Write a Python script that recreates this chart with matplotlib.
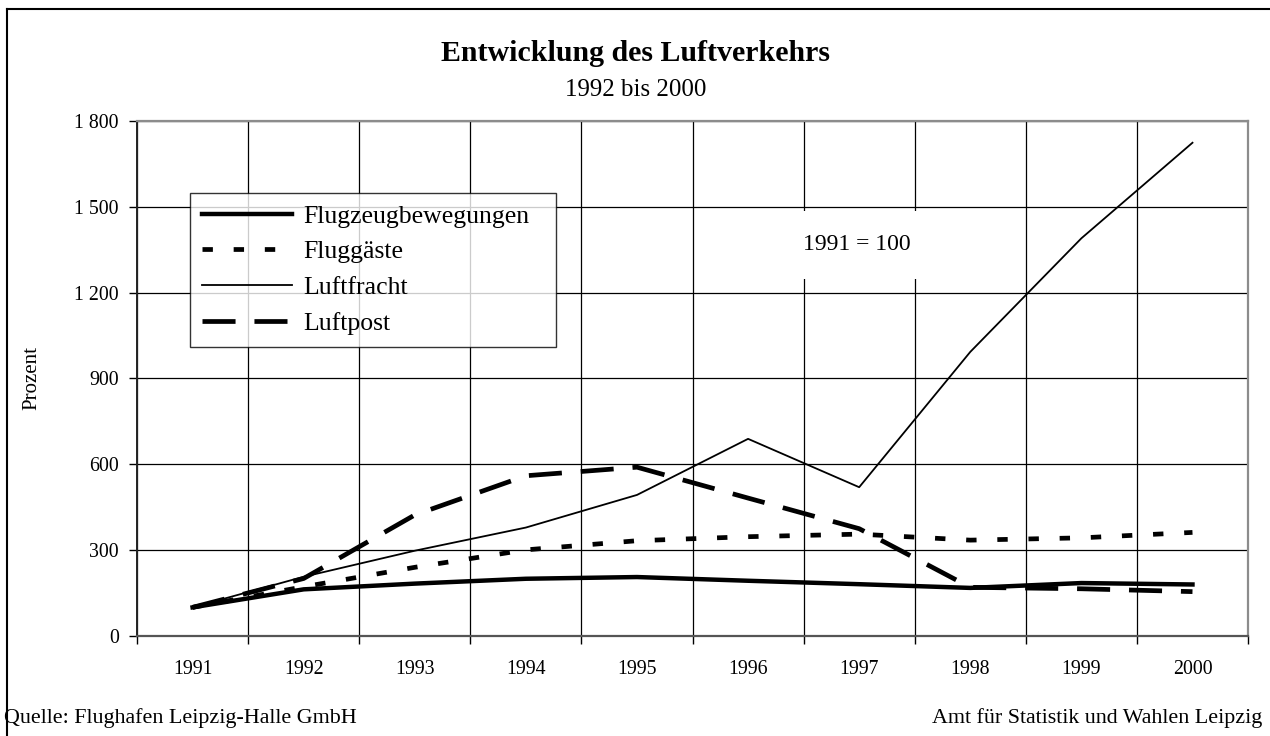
import numpy as np
import matplotlib
matplotlib.use("Agg")
import matplotlib.pyplot as plt
from matplotlib.lines import Line2D

plt.rcParams['font.family'] = ['Liberation Serif', 'DejaVu Serif']

# Index 1991 = 100
years = ['1991', '1992', '1993', '1994', '1995', '1996', '1997', '1998', '1999', '2000']
flugzeugbewegungen = [100, 163, 183, 200, 206, 193, 181, 168, 185, 180]
fluggaeste = [100, 172, 240, 301, 333, 347, 356, 335, 343, 362]
luftfracht = [100, 207, 298, 379, 493, 689, 520, 993, 1390, 1724]
luftpost = [100, 201, 423, 560, 590, 482, 375, 170, 165, 155]

fig = plt.figure(figsize=(12.7, 7.36), dpi=100)
ax = fig.add_axes([0.1079, 0.1359, 0.8748, 0.6997])

x = np.arange(len(years))

ax.plot(x, flugzeugbewegungen, color='black', lw=3.2, solid_joinstyle='round',
        label='Flugzeugbewegungen', zorder=4)
ax.plot(x, fluggaeste, color='black', lw=3.4, linestyle=(0, (2.2, 4.4)),
        dash_capstyle='butt', label='Fluggäste', zorder=4)
ax.plot(x, luftfracht, color='black', lw=1.3, label='Luftfracht', zorder=5)
ax.plot(x, luftpost, color='black', lw=3.4, linestyle=(0, (7.0, 4.0)),
        dash_capstyle='butt', label='Luftpost', zorder=3)

ax.set_xlim(-0.5, 9.5)
ax.set_ylim(0, 1800)

ax.set_xticks(x)
ax.set_xticklabels(years)
ax.set_xticks(np.arange(-0.5, 10, 1), minor=True)
ax.tick_params(axis='x', which='major', length=0, pad=17, labelsize=14.3)
ax.tick_params(axis='x', which='minor', length=6, width=1, direction='out')

yticks = [0, 300, 600, 900, 1200, 1500, 1800]
ax.set_yticks(yticks)
ax.set_yticklabels(['0', '300', '600', '900', '1 200', '1 500', '1 800'])
ax.tick_params(axis='y', length=6, width=1, pad=7, labelsize=14.3)

ax.grid(True, axis='y', which='major', color='black', lw=0.9)
ax.grid(True, axis='x', which='minor', color='black', lw=0.9)
ax.set_axisbelow(True)

for side in ['top', 'right']:
    ax.spines[side].set_color('#8c8c8c')
    ax.spines[side].set_linewidth(1.6)
ax.spines['left'].set_color('#222222')
ax.spines['left'].set_linewidth(1.4)
ax.spines['bottom'].set_color('#555555')
ax.spines['bottom'].set_linewidth(1.6)

ax.set_ylabel('Prozent', fontsize=15, labelpad=24)

# legend box stretched to a fixed width
leg = ax.legend(loc='upper left', bbox_to_anchor=(0.0477, 0.0, 0.3294, 0.860),
                mode='expand', borderaxespad=0,
                fontsize=18.5, handlelength=3.5, handletextpad=0.45, labelspacing=0.5,
                frameon=True, fancybox=False, edgecolor='black', borderpad=0.45)
leg.get_frame().set_linewidth(1.0)
leg.set_zorder(6)

ax.text(5.98, 1367, '1991 = 100', fontsize=17, ha='center', va='center', zorder=2,
        bbox=dict(facecolor='white', edgecolor='none', pad=17))

fig.text(0.5007, 0.927, 'Entwicklung des Luftverkehrs', fontsize=21.5, fontweight='bold',
         ha='center', va='center')
fig.text(0.5007, 0.878, '1992 bis 2000', fontsize=18, ha='center', va='center')

fig.text(0.003, 0.024, 'Quelle: Flughafen Leipzig-Halle GmbH', fontsize=15.8, ha='left', va='center')
fig.text(0.994, 0.024, 'Amt für Statistik und Wahlen Leipzig', fontsize=15.8, ha='right', va='center')

# outer frame: only top and left edges are visible
fig.add_artist(Line2D([7 / 1270, 1.0], [1 - 9 / 736, 1 - 9 / 736], transform=fig.transFigure,
                      color='black', lw=1.5))
fig.add_artist(Line2D([7 / 1270, 7 / 1270], [0.0, 1 - 9 / 736], transform=fig.transFigure,
                      color='black', lw=1.5))

fig.savefig('out.png', dpi=100)
